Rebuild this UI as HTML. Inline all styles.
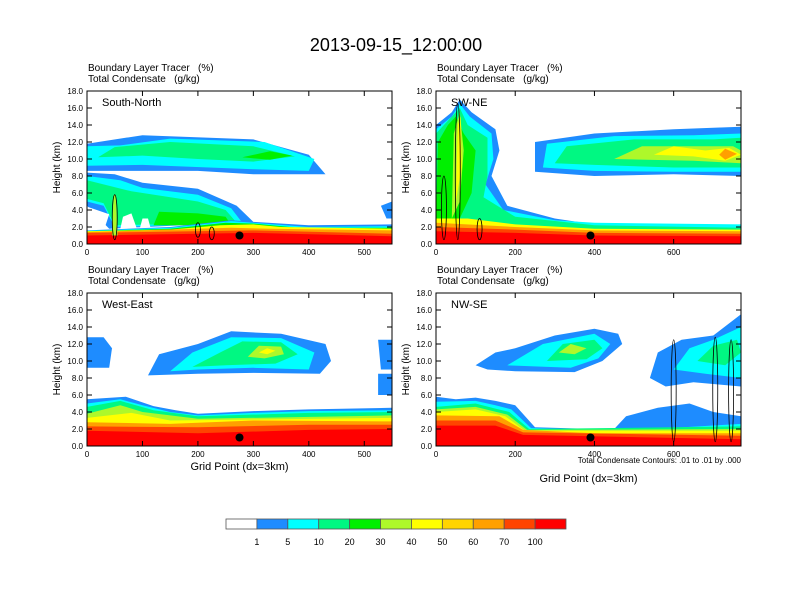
<!DOCTYPE html>
<html><head><meta charset="utf-8"><style>
body{margin:0;background:#fff;}
svg{display:block;font-family:"Liberation Sans",Helvetica,sans-serif;}
text{white-space:pre;}
</style></head><body>
<svg id="c" width="792" height="612" viewBox="0 0 792 612">
<text x="396" y="51" font-size="18" text-anchor="middle">2013-09-15_12:00:00</text>
</svg>
<script>
const levels=["1","5","10","20","30","40","50","60","70","100"];
const colors=["#ffffff","#1e8cff","#00ffff","#00f882","#00f000","#aef82a","#ffff00","#ffd400","#ffa000","#ff4400","#ff0000"];
const panelNames=["South-North","SW-NE","West-East","NW-SE"];
const panelXmax=[550,770,550,770];
const panelXticks=[[0,100,200,300,400,500],[0,200,400,600],[0,100,200,300,400,500],[0,200,400,600]];
const yTicks=[0,2,4,6,8,10,12,14,16,18];
const dotX=[275,390,275,390];
const dotY=[1.0,1.0,1.0,1.0];
// shapes: [colorIndex, x0,y0,x1,y1,...] in grid point / km
const shapesTL=[
[1,0,4.5,0,8.4,50,8.2,100,7.2,200,6.5,270,4.5,300,2.6,40,1.8],
[2,0,5,0,8,60,7.5,100,6.6,200,5.8,260,4.2,280,2.5,50,2.0,30,4.5],
[3,0,5.3,0,7.5,80,6.2,200,5.0,250,4.0,270,2.5,50,2.2,30,4.8],
[4,120,2.2,130,3.8,200,3.6,250,3.2,260,2.2],
[0,0,1.5,30,1.5,40,3.5,0,4.4],
[0,60,1.8,65,3.2,80,3.6,90,1.8],
[0,95,1.8,100,3.0,110,3.0,115,1.8],
[1,0,8.6,0,11.8,100,12.8,300,12.3,400,10.5,430,8.2,300,8.2,200,8.6,100,8.6],
[2,0,9.2,0,11.5,60,11.6,150,12.4,320,12,410,10,400,8.6,300,8.8,100,9.3],
[3,20,10.2,50,11.4,150,12.0,300,11.5,375,10.3,300,9.7,200,10,100,10.4],
[4,280,10.2,330,10.9,370,10.4,330,9.9],
[1,540,3,530,4.5,550,5,550,3],
[1,0,0,550,0,550,2.3,400,2.2,300,2.6,260,2.8,150,2.0,0,1.6],
[2,0,0,550,0,550,2.1,400,2.0,300,2.5,260,2.7,150,1.9,0,1.55],
[4,0,0,550,0,550,1.9,380,1.9,300,2.4,250,2.5,150,1.8,0,1.5],
[6,0,0,550,0,550,1.8,350,2.0,300,2.3,240,2.2,150,1.7,0,1.5],
[8,0,0,550,0,550,1.6,330,1.8,260,1.9,0,1.4],
[9,0,0,550,0,550,1.2,300,1.6,0,1.3],
[10,0,0,550,0,550,0.9,300,1.3,0,1.0],
[5,45,1,48,5.8,52,5.8,55,1]
];
const shapesTR=[
[1,0,0,0,14,40,15.5,60,17,90,15.5,150,13.5,160,11,140,8,180,4.5,300,3.0,400,2.3,770,2.2,770,0],
[1,250,8.5,250,12,400,13,600,13.5,770,13.8,770,8,600,8.2,400,8],
[2,270,9,280,11.8,450,12.7,650,12.8,770,13,770,8.5,600,8.5,400,8.6],
[3,300,9.5,330,11.5,500,12.3,700,12.3,770,12.5,770,9,600,9,400,9.3],
[5,450,10,520,11.5,650,11.5,750,11.5,770,11,770,9.5,650,9.8],
[6,550,10.5,600,11.5,680,11,740,11.3,770,10.5,730,9.8,650,10.3],
[8,715,10.5,730,11.2,760,10.6,730,9.9],
[2,0,0,0,13.5,40,15,60,16.5,85,15,140,13,145,10,125,7,170,4.0,300,2.8,400,2.5,770,2.3,770,0],
[3,0,0,0,13,30,14.5,60,16,80,14,130,12.5,130,8,120,5.5,200,3.2,400,2.2,770,1.9,770,0],
[4,0,3,5,12,30,14,50,15,70,13,100,11,90,6,60,3],
[5,40,3,45,13,60,15.5,70,11,60,5],
[6,50,5,55,14,62,15,65,9],
[6,0,0,0,3.0,80,3.0,200,2.3,400,1.8,770,1.7,770,0],
[8,0,0,0,2.5,200,2.0,400,1.6,770,1.5,770,0],
[9,0,0,0,2.0,200,1.7,400,1.3,770,1.2,770,0],
[10,0,0,0,1.5,200,1.3,400,1.0,770,0.9,770,0]
];
const shapesBL=[
[1,0,9.2,0,12.8,30,12.8,45,11.5,40,9.2],
[1,110,8.3,130,10.8,200,12,260,13.5,350,13.2,430,12,440,10,420,8.5,300,8.6,200,8.5],
[2,150,8.8,190,11,260,12.8,350,12.7,410,11,400,9,300,9.2,200,9],
[3,190,9.3,240,11,280,12.3,350,12.2,380,10.8,340,9.7,250,9.5],
[5,290,10.5,310,11.8,350,11.7,355,10.8,320,10.3],
[6,310,11,325,11.5,340,11.2,325,10.8],
[1,530,9,525,12.5,550,12.5,550,9],
[1,525,6,525,8.5,550,8.5,550,6],
[1,0,0,550,0,550,4.5,400,4.3,300,4.1,200,3.8,160,4.2,120,4.7,70,5.8,0,5.5],
[2,0,0,550,0,550,4.2,400,4.1,300,3.9,200,3.6,150,4.0,100,4.8,60,5.5,0,5.0],
[3,0,0,550,0,550,4.0,400,3.9,200,3.5,120,4.2,60,5.3,0,4.6],
[5,0,0,550,0,550,3.6,200,3.2,100,4.0,60,4.8,0,3.8],
[6,0,0,550,0,550,3.3,150,3.0,80,3.9,0,3.3],
[8,0,0,550,0,550,2.9,300,3.0,150,2.6,0,2.8],
[9,0,0,550,0,550,2.5,400,2.5,200,2.2,0,2.3],
[10,0,0,550,0,550,2.0,400,1.9,200,1.5,0,1.8]
];
const shapesBR=[
[1,100,9.5,150,11,200,11.5,300,13,400,13.8,460,13.2,470,12,420,10,350,8.7,200,8.8,130,9],
[2,180,9.5,270,12,400,13.2,440,12,410,10.3,340,9.2],
[3,280,10,320,12,400,12.5,420,11.5,380,10.2],
[5,310,11,340,12,380,11.5,350,10.8],
[1,540,8,560,11,620,12.5,700,13,770,15.5,770,7,650,7.5,580,7],
[2,600,9,640,11.5,700,12.5,770,14,770,8,680,8.5],
[3,660,10,700,11.8,760,12.5,770,11,730,9.5],
[1,450,2,480,3.5,560,4.5,640,5,700,4,770,3.5,770,2],
[1,0,0,770,0,770,3.0,650,2.5,550,2.2,400,2.0,250,2.2,200,4.8,150,5.3,100,5.7,50,5.5,0,5.8],
[2,0,0,770,0,770,2.6,550,2.0,400,1.9,240,2.1,190,4.3,150,4.8,100,5.3,0,5.2],
[3,0,0,770,0,770,2.3,235,2.0,185,4.0,150,4.4,100,5,0,4.6],
[5,0,0,770,0,770,2.0,230,1.9,180,3.7,100,4.6,0,4.3],
[6,0,0,770,0,770,1.8,225,1.8,175,3.5,100,4.3,0,4.0],
[8,0,0,770,0,770,1.5,400,1.5,220,1.9,160,3.5,0,3.6],
[9,0,0,770,0,770,1.2,220,1.6,150,3.0,0,3.0],
[10,0,0,770,0,770,0.8,220,1.3,150,2.4,0,2.4]
];
const allShapes=[shapesTL,shapesTR,shapesBL,shapesBR];
// condensate contour outlines: [x, bottom km, top km]
const contoursTL=[[50,0.5,5.8],[200,0.8,2.5],[225,0.5,2.0]];
const contoursTR=[[55,0.5,16.5],[20,0.5,8],[110,0.5,3]];
const contoursBL=[];
const contoursBR=[[600,0.5,12.5],[705,0.5,12.8],[745,0.5,12.5]];
const allContours=[contoursTL,contoursTR,contoursBL,contoursBR];
const boxes=[[87,91,305,153],[436,91,305,153],[87,293,305,153],[436,293,305,153]];
const svg=document.getElementById('c');
const NS="http://www.w3.org/2000/svg";
function mk(tag,attrs,parent){const e=document.createElementNS(NS,tag);for(const k in attrs)e.setAttribute(k,attrs[k]);(parent||svg).appendChild(e);return e;}
boxes.forEach((b,p)=>{
  const [bx,by,bw,bh]=b;
  const xs=v=>bx+v/panelXmax[p]*bw;
  const ys=v=>by+bh-v/18*bh;
  const g=mk('g',{});
  
  
  const cp=mk('clipPath',{id:'cp'+p},g);
  mk('rect',{x:bx,y:by,width:bw,height:bh},cp);
  const fg=mk('g',{'clip-path':'url(#cp'+p+')'},g);
  allShapes[p].forEach((s,i)=>{
    const pts=[];for(let k=1;k<s.length;k+=2)pts.push(xs(s[k]).toFixed(1)+','+ys(s[k+1]).toFixed(1));
    const pg=mk('polygon',{points:pts.join(' '),fill:colors[s[0]],'stroke-linejoin':'round'},fg);
    
    
  });
  allContours[p].forEach(c=>{
    const el=mk('ellipse',{cx:xs(c[0]),cy:(ys(c[1])+ys(c[2]))/2,rx:2.5,ry:(ys(c[1])-ys(c[2]))/2,fill:'none',stroke:'#000','stroke-width':0.8},fg);
    
    
  });
  const dot=mk('circle',{cx:xs(dotX[p]),cy:ys(dotY[p]),r:4,fill:'#000'},g);
  
  
  mk('rect',{x:bx,y:by,width:bw,height:bh,fill:'none',stroke:'#000','stroke-width':1},g);
  yTicks.forEach(t=>{
    mk('line',{x1:bx,x2:bx+5,y1:ys(t),y2:ys(t),stroke:'#000'},g);
    mk('line',{x1:bx+bw,x2:bx+bw-5,y1:ys(t),y2:ys(t),stroke:'#000'},g);
    const tl=mk('text',{x:bx-4,y:ys(t)+3,'font-size':8,'text-anchor':'end'},g);tl.textContent=t.toFixed(1);
    
    
  });
  panelXticks[p].forEach(t=>{
    mk('line',{x1:xs(t),x2:xs(t),y1:by+bh,y2:by+bh-5,stroke:'#000'},g);
    mk('line',{x1:xs(t),x2:xs(t),y1:by,y2:by+5,stroke:'#000'},g);
    const tl=mk('text',{x:xs(t),y:by+bh+11,'font-size':8,'text-anchor':'middle'},g);tl.textContent=t;
    
    
  });
  const yt=mk('text',{x:0,y:0,'font-size':10,'text-anchor':'middle',transform:`translate(${bx-27},${by+bh/2}) rotate(-90)`},g);yt.textContent='Height (km)';
  
  
  const h1=mk('text',{x:bx+1,y:by-20,'font-size':10},g);h1.textContent='Boundary Layer Tracer   (%)';
  
  
  const h2=mk('text',{x:bx+1,y:by-9,'font-size':10},g);h2.textContent='Total Condensate   (g/kg)';
  
  
  const nm=mk('text',{x:bx+15,y:by+15,'font-size':11},g);nm.textContent=panelNames[p];
  
  
  if(p>=2){
    const xt=mk('text',{x:bx+bw/2,y:p==2?470:482,'font-size':11,'text-anchor':'middle'},g);xt.textContent='Grid Point (dx=3km)';
    
    
  }
  if(p==3){
    const ct=mk('text',{x:bx+bw,y:463,'font-size':8,'text-anchor':'end'},g);ct.textContent='Total Condensate Contours: .01 to .01 by .000';
    
    
  }
});
const cb=mk('g',{});


const cbx=226,cbw=340/colors.length;
colors.forEach((c,i)=>{
  const r=mk('rect',{x:cbx+i*cbw,y:519,width:cbw,height:10,fill:c,stroke:'#555','stroke-width':0.8},cb);
  
  
});
levels.forEach((l,i)=>{
  const t=mk('text',{x:cbx+(i+1)*cbw,y:545,'font-size':9,'text-anchor':'middle'},cb);t.textContent=l;
  
  
});
</script>
</body></html>
